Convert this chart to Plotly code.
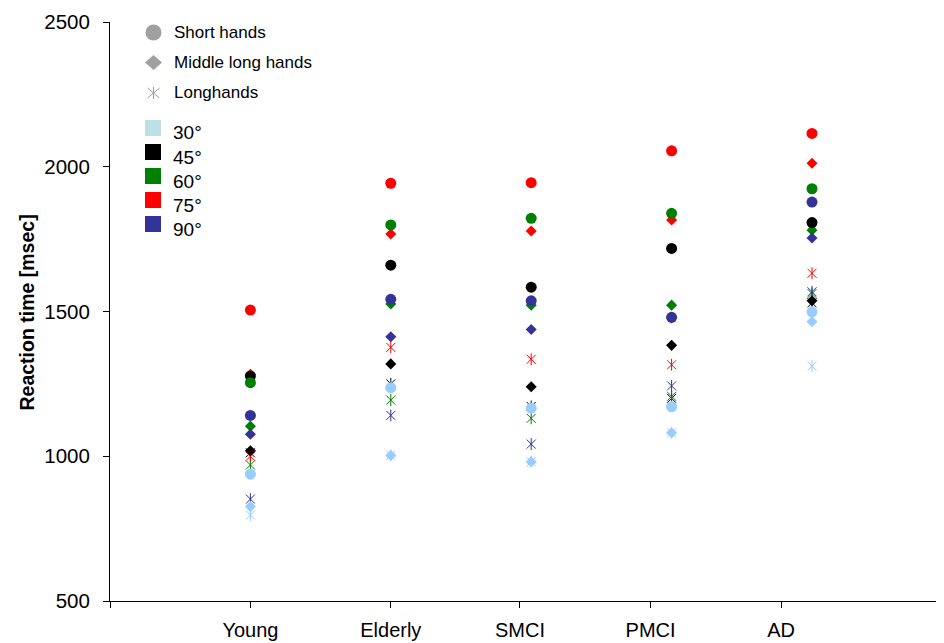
import plotly.graph_objects as go

# ---------------- data ----------------
groups = ["Young", "Elderly", "SMCI", "PMCI", "AD"]
group_x = [1, 2, 3, 4, 5]                       # where the markers sit
tick_positions = [0, 1, 2, 2.92, 3.85, 4.78]    # where the axis ticks/labels sit
tick_labels = [""] + groups

angles = ["30°", "45°", "60°", "75°", "90°"]
marker_colors = ["#99CCFF", "#000000", "#008000", "#FF0000", "#333399"]
legend_colors = ["#BDE0E5", "#000000", "#008000", "#FF0000", "#333399"]

# Short hands (circles)
short_30 = [938, 1237, 1166, 1171, 1499]
short_45 = [1277, 1660, 1584, 1718, 1807]
short_60 = [1254, 1799, 1822, 1839, 1924]
short_75 = [1505, 1943, 1945, 2055, 2115]
short_90 = [1141, 1542, 1537, 1480, 1878]

# Middle long hands (diamonds)
middle_30 = [826, 1003, 981, 1081, 1465]
middle_45 = [1019, 1319, 1240, 1383, 1537]
middle_60 = [1104, 1526, 1522, 1522, 1781]
middle_75 = [1283, 1768, 1778, 1816, 2012]
middle_90 = [1076, 1413, 1438, 1478, 1754]

# Longhands (stars)
long_30 = [797, 1003, 981, 1081, 1312]
long_45 = [1012, 1250, 1172, 1200, 1530]
long_60 = [970, 1194, 1131, 1207, 1562]
long_75 = [1000, 1376, 1335, 1316, 1632]
long_90 = [852, 1141, 1042, 1243, 1568]

short_sets = [short_30, short_45, short_60, short_75, short_90]
middle_sets = [middle_30, middle_45, middle_60, middle_75, middle_90]
long_sets = [long_30, long_45, long_60, long_75, long_90]

shape_labels = ["Short hands", "Middle long hands", "Longhands"]

# ---------------- layout constants ----------------
PAGE_OFF = 8                      # default body margin of the html page
W, H = 944 - PAGE_OFF, 643 - PAGE_OFF
PLOT_L, PLOT_R, PLOT_T, PLOT_B = 110, 943, 22, 601   # in window pixels
FONT = "Liberation Sans, Arial, Helvetica, sans-serif"
GRAY = "#A0A0A0"


def px(x):
    return (x - PAGE_OFF) / W


def py(y):
    return 1 - (y - PAGE_OFF) / H


fig = go.Figure()

# stars first, then diamonds, then circles
for vals, col in zip(long_sets, marker_colors):
    fig.add_trace(go.Scatter(x=group_x, y=vals, mode="markers", showlegend=False,
                             hoverinfo="y",
                             marker=dict(symbol="x-thin-open", size=9, color=col,
                                         line=dict(color=col, width=1))))
    fig.add_trace(go.Scatter(x=group_x, y=vals, mode="markers", showlegend=False,
                             hoverinfo="skip",
                             marker=dict(symbol="line-ns-open", size=8.5, color=col,
                                         line=dict(color=col, width=1))))
for vals, col in zip(middle_sets, marker_colors):
    fig.add_trace(go.Scatter(x=group_x, y=vals, mode="markers", showlegend=False,
                             marker=dict(symbol="diamond", size=8.5, color=col,
                                         line=dict(width=0))))
for vals, col in zip(short_sets, marker_colors):
    fig.add_trace(go.Scatter(x=group_x, y=vals, mode="markers", showlegend=False,
                             marker=dict(symbol="circle", size=11, color=col,
                                         line=dict(width=0))))

# ---------------- custom legend ----------------
shapes = []
annotations = []
lx = 153.5
shape_rows = [32.5, 62.5, 93]
# circle
shapes.append(dict(type="circle", xref="paper", yref="paper",
                   x0=px(lx - 8), x1=px(lx + 8), y0=py(shape_rows[0] + 8), y1=py(shape_rows[0] - 8),
                   fillcolor=GRAY, line=dict(width=0)))
# diamond
cy = shape_rows[1]
shapes.append(dict(type="path", xref="paper", yref="paper",
                   path=f"M {px(lx)},{py(cy-7.5)} L {px(lx+8.5)},{py(cy)} L {px(lx)},{py(cy+7.5)} L {px(lx-8.5)},{py(cy)} Z",
                   fillcolor=GRAY, line=dict(width=0)))
# star
cy = shape_rows[2]
shapes.append(dict(type="path", xref="paper", yref="paper",
                   path=(f"M {px(lx)},{py(cy-6)} L {px(lx)},{py(cy+6)} "
                         f"M {px(lx-6)},{py(cy-5)} L {px(lx+6)},{py(cy+5)} "
                         f"M {px(lx-6)},{py(cy+5)} L {px(lx+6)},{py(cy-5)}"),
                   line=dict(color=GRAY, width=1)))
for lab, yy in zip(shape_labels, shape_rows):
    annotations.append(dict(text=lab, xref="paper", yref="paper", x=px(172), y=py(yy - 0.5),
                            xanchor="left", yanchor="middle", showarrow=False,
                            font=dict(family=FONT, size=17, color="#000000")))

color_rows = [128, 152, 176, 200, 224]
for lab, col, yy in zip(angles, legend_colors, color_rows):
    shapes.append(dict(type="rect", xref="paper", yref="paper",
                       x0=px(145), x1=px(161), y0=py(yy + 8), y1=py(yy - 8),
                       fillcolor=col, line=dict(width=0)))
    annotations.append(dict(text=lab, xref="paper", yref="paper", x=px(171), y=py(yy + 5),
                            xanchor="left", yanchor="middle", showarrow=False,
                            font=dict(family=FONT, size=19, color="#000000")))

# y-axis title
annotations.append(dict(text="<b>Reaction time [msec]</b>", xref="paper", yref="paper",
                        x=px(26), y=py((PLOT_T + PLOT_B) / 2 + 1), textangle=-90,
                        xanchor="center", yanchor="middle", showarrow=False,
                        font=dict(family=FONT, size=19.5, color="#000000")))

fig.update_layout(
    width=W, height=H,
    margin=dict(l=0, r=0, t=0, b=0),
    paper_bgcolor="white", plot_bgcolor="white",
    font=dict(family=FONT, color="#000000"),
    showlegend=False,
    shapes=shapes, annotations=annotations,
    xaxis=dict(domain=[px(PLOT_L), min(px(PLOT_R), 1)], range=[0, (PLOT_R - PLOT_L) / 140.4],
               tickmode="array", tickvals=tick_positions, ticktext=tick_labels,
               ticks="outside", ticklen=6, tickwidth=1, tickcolor="#000000",
               showline=True, linecolor="#000000", linewidth=1,
               showgrid=False, zeroline=False, automargin=False,
               tickfont=dict(family=FONT, size=20), ticklabelstandoff=5),
    yaxis=dict(domain=[py(PLOT_B), py(PLOT_T)], range=[500, 2500],
               tickmode="array", tickvals=[500, 1000, 1500, 2000, 2500],
               ticks="outside", ticklen=6, tickwidth=1, tickcolor="#000000",
               showline=True, linecolor="#000000", linewidth=1,
               showgrid=False, zeroline=False, automargin=False,
               tickfont=dict(family=FONT, size=20.5), ticklabelstandoff=9),
)

fig.write_html("out.html")
